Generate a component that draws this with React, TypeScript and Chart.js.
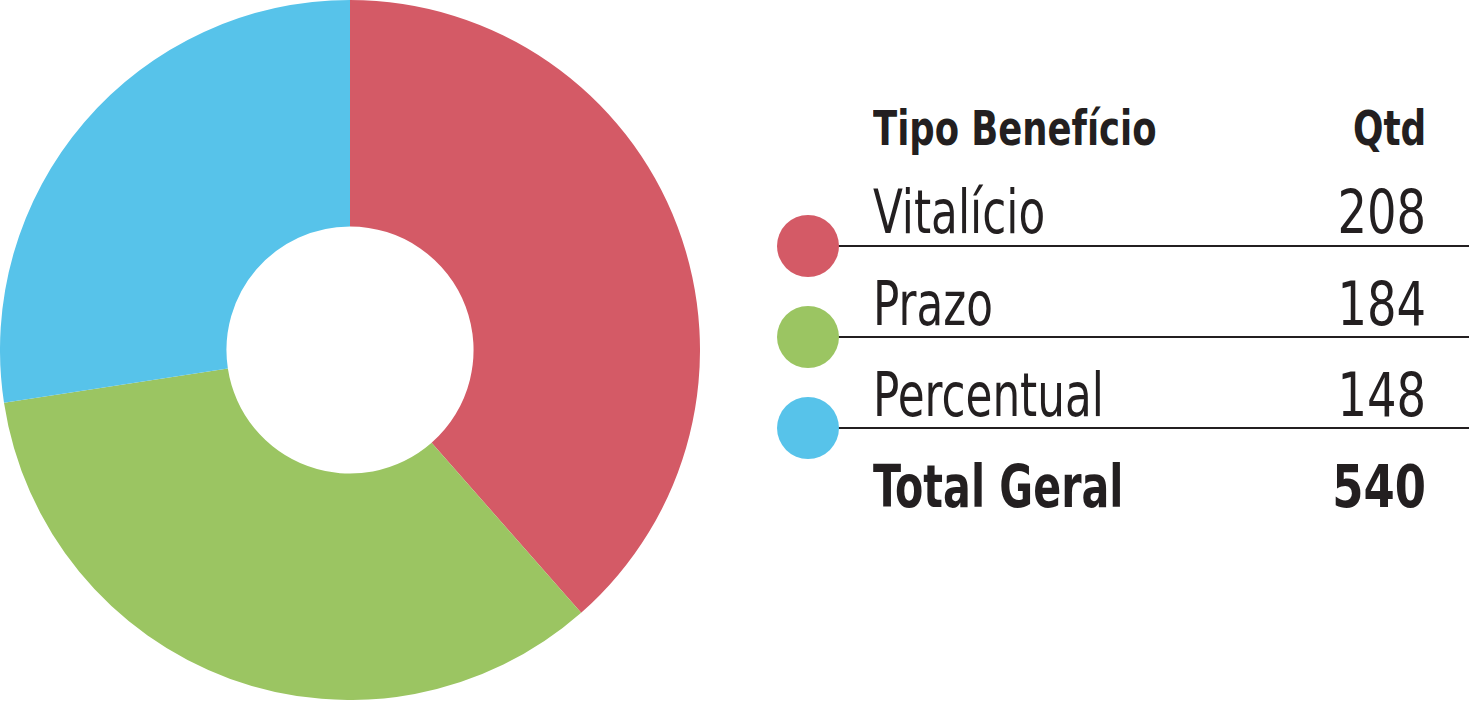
import React, { useEffect, useRef } from "react";
import { Chart, registerables } from "chart.js";

Chart.register(...registerables);

const categories = ["Vitalício", "Prazo", "Percentual"];
const values = [208, 184, 148];
const colors = ["#D45A66", "#9BC562", "#57C3EA"];
const headerLabels = ["Tipo Benefício", "Qtd"];
const totalLabel = "Total Geral";

const FONT = "'Liberation Sans Narrow', 'DejaVu Sans Condensed', 'Liberation Sans', sans-serif";
const TEXT = "#231F20";

export default function App() {
  const ref = useRef<HTMLCanvasElement | null>(null);

  useEffect(() => {
    if (!ref.current) return;
    const chart = new Chart(ref.current, {
      type: "doughnut",
      data: {
        labels: categories,
        datasets: [
          {
            data: values,
            backgroundColor: colors,
            borderWidth: 0,
          },
        ],
      },
      options: {
        responsive: false,
        animation: false,
        cutout: "35.3%",
        layout: { padding: 0 },
        plugins: { legend: { display: false }, tooltip: { enabled: false } },
      },
    });
    return () => chart.destroy();
  }, []);

  const total = values.reduce((a, b) => a + b, 0);
  const rowBaselines = [233, 325, 416];
  const lineYs = [246, 337, 428];

  const leftText = (sx: number): React.CSSProperties => ({ transform: `scaleX(${sx})`, transformOrigin: "left center" });
  const rightText = (sx: number): React.CSSProperties => ({ transform: `scaleX(${sx})`, transformOrigin: "right center" });

  return (
    <div style={{ position: "absolute", left: 0, top: 0, width: 1469, height: 707, background: "#fff", overflow: "hidden", fontFamily: FONT, color: TEXT }}>
      <canvas ref={ref} width={700} height={700} style={{ position: "absolute", left: 0, top: 0, width: 700, height: 700 }} />
      <div style={{ position: "absolute", left: 873, top: 145 - 40.6, fontSize: 48, lineHeight: "48px", fontWeight: 700, whiteSpace: "nowrap", ...leftText(0.82) }}>{headerLabels[0]}</div>
      <div style={{ position: "absolute", right: 1469 - 1426, top: 145 - 40.6, fontSize: 48, lineHeight: "48px", fontWeight: 700, whiteSpace: "nowrap", ...rightText(0.83) }}>{headerLabels[1]}</div>
      {categories.map((c, i) => (
        <React.Fragment key={c}>
          <div style={{ position: "absolute", left: 873, top: rowBaselines[i] - 50.8, fontSize: 60, lineHeight: "60px", whiteSpace: "nowrap", ...leftText(0.81) }}>{c}</div>
          <div style={{ position: "absolute", right: 1469 - 1426, top: rowBaselines[i] - 50.8, fontSize: 60, lineHeight: "60px", whiteSpace: "nowrap", ...rightText(0.86) }}>{values[i]}</div>
          <div style={{ position: "absolute", left: 838, top: lineYs[i] - 1, width: 631, height: 1.6, background: TEXT }} />
          <div style={{ position: "absolute", left: 777, top: lineYs[i] - 31, width: 62, height: 62, borderRadius: "50%", background: colors[i] }} />
        </React.Fragment>
      ))}
      <div style={{ position: "absolute", left: 873, top: 507 - 49.1, fontSize: 58, lineHeight: "58px", fontWeight: 700, whiteSpace: "nowrap", ...leftText(0.79) }}>{totalLabel}</div>
      <div style={{ position: "absolute", right: 1469 - 1426, top: 507 - 49.1, fontSize: 58, lineHeight: "58px", fontWeight: 700, whiteSpace: "nowrap", ...rightText(0.86) }}>{total}</div>
    </div>
  );
}
